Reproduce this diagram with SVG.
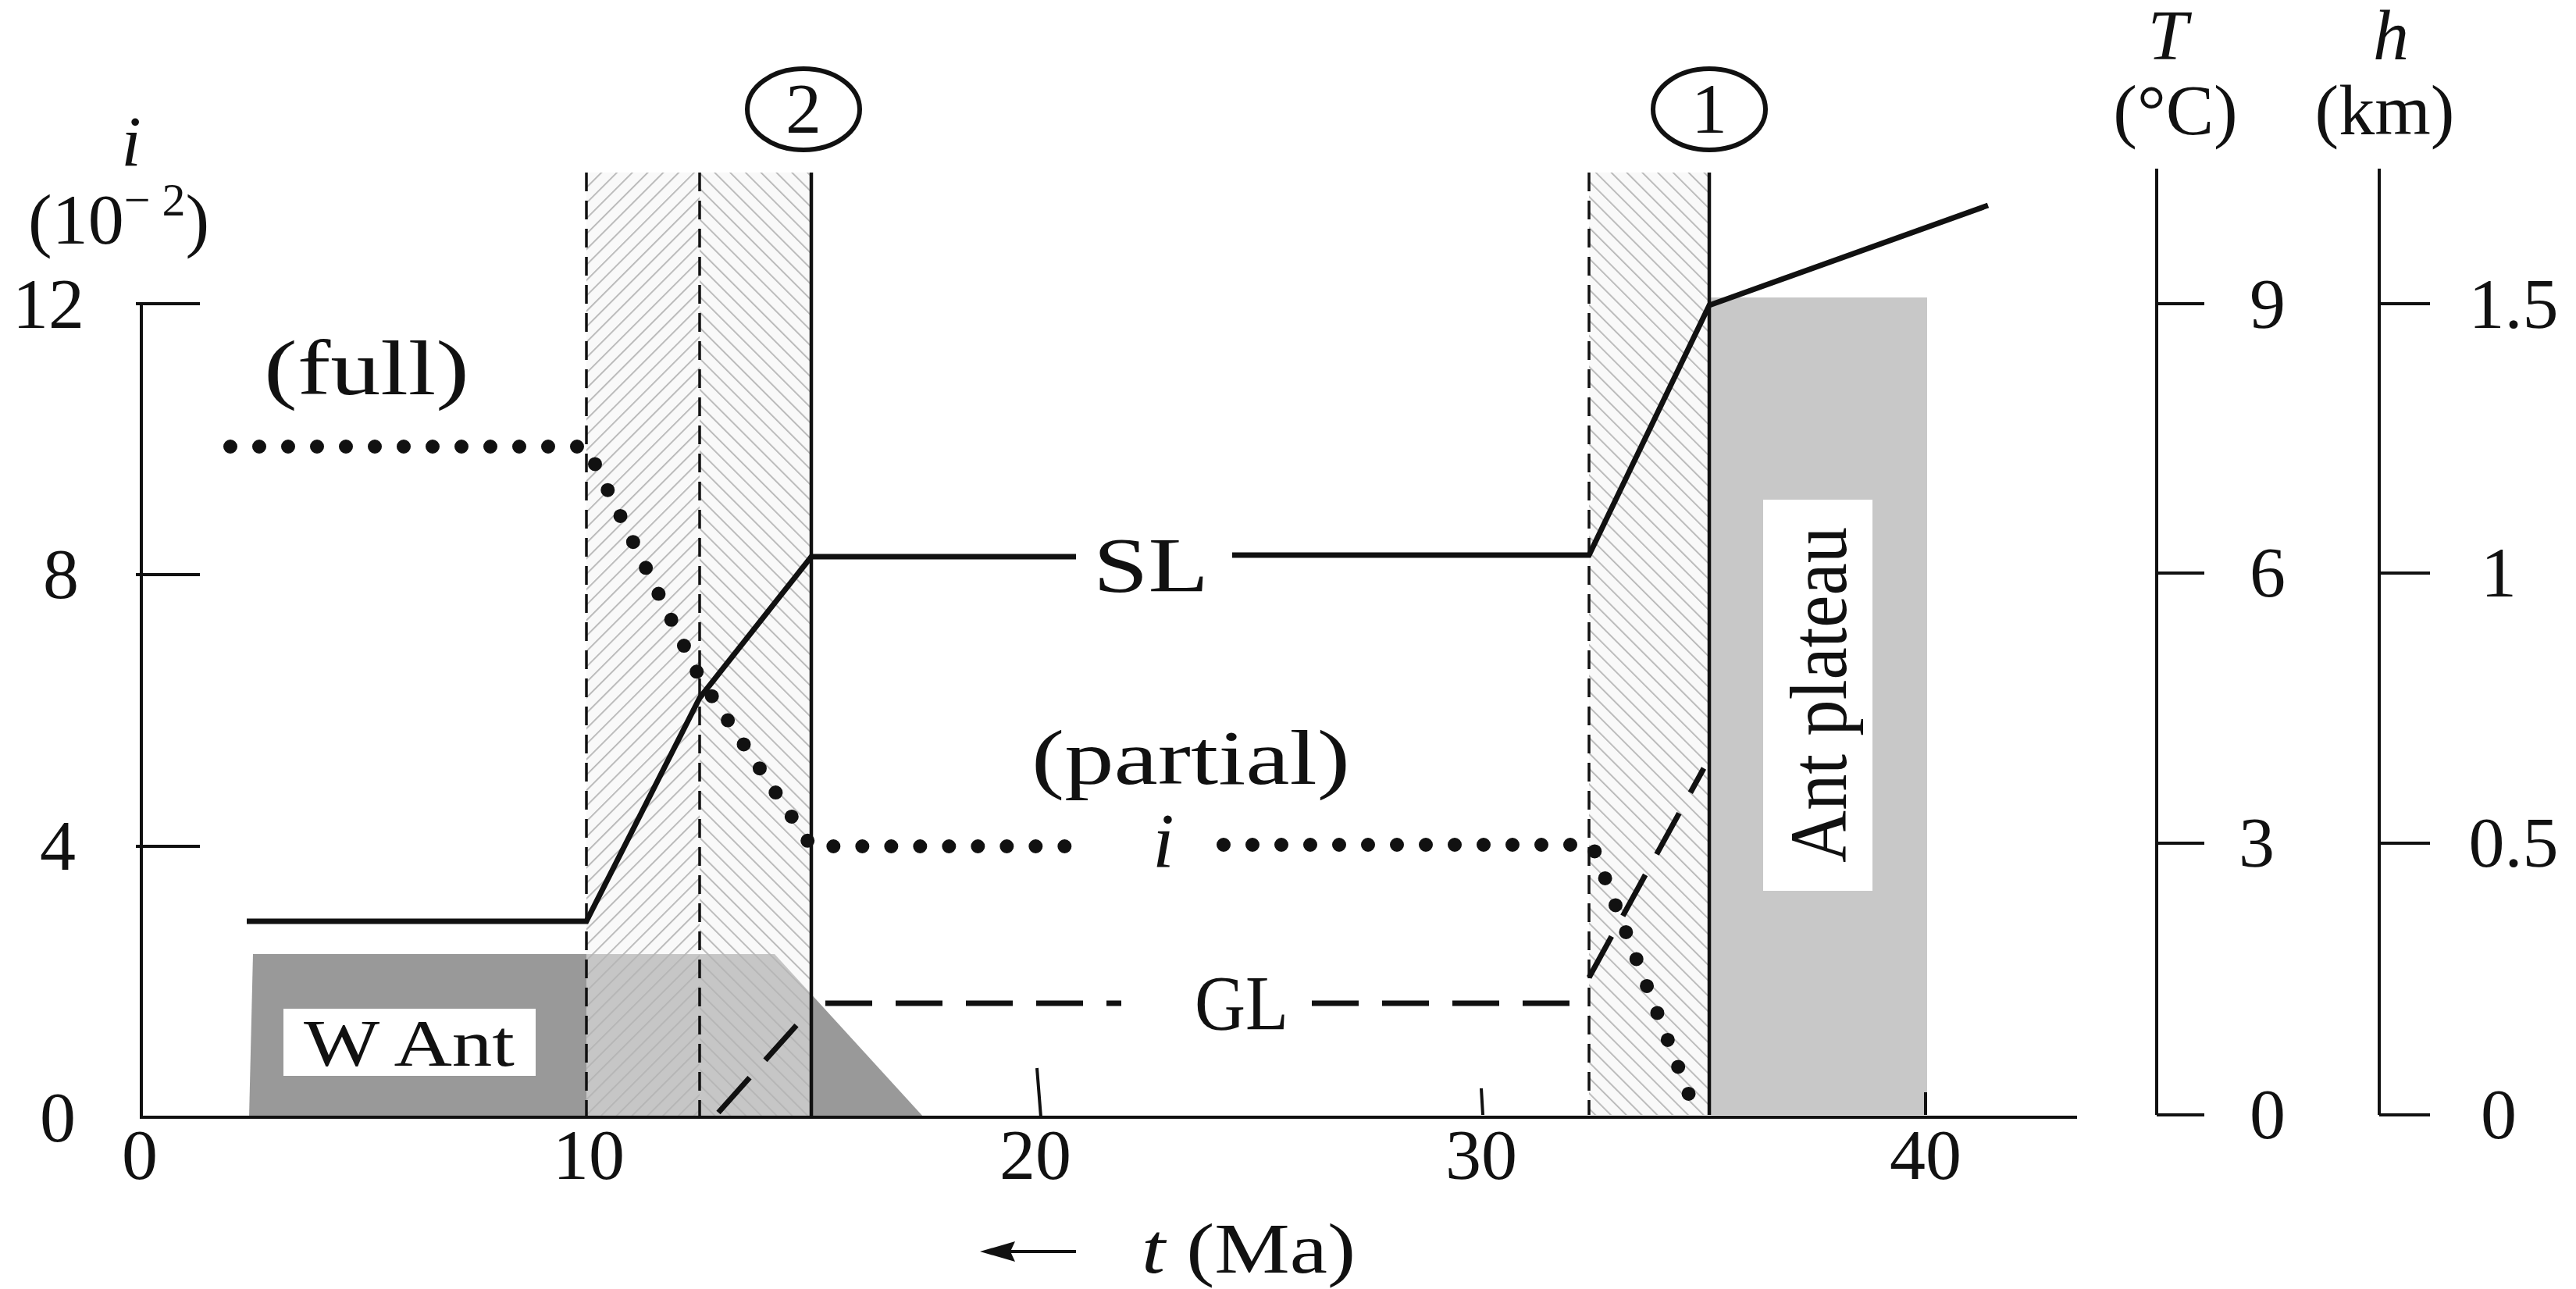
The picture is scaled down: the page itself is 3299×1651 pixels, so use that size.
<svg xmlns="http://www.w3.org/2000/svg" width="3299" height="1651" viewBox="0 0 3299 1651">
<style>
text{font-family:"Liberation Serif","Times New Roman",serif;fill:#111}
.ax{stroke:#111;stroke-width:4;fill:none}
.lbl{font-size:92px}
.big{font-size:100px}
.it{font-style:italic}
</style>
<defs>
<pattern id="hA" width="14" height="14" patternUnits="userSpaceOnUse" patternTransform="rotate(45)">
<rect width="14" height="14" fill="#f4f4f4" fill-opacity="0.5"/><line x1="0" y1="0" x2="0" y2="14" stroke="#b4b4b4" stroke-width="3.5"/></pattern>
<pattern id="hB" width="14" height="14" patternUnits="userSpaceOnUse" patternTransform="rotate(-45)">
<rect width="14" height="14" fill="#f4f4f4" fill-opacity="0.5"/><line x1="0" y1="0" x2="0" y2="14" stroke="#b4b4b4" stroke-width="3.5"/></pattern>
</defs>
<rect width="3299" height="1651" fill="#fff"/>
<g id="shapes">
<polygon points="324,1222 992,1222 1183,1431 319,1431" fill="#999"/>
<rect x="2189" y="381" width="279" height="1047" fill="#c8c8c8"/>
<rect x="751" y="221" width="145" height="1210" fill="url(#hA)"/>
<rect x="896" y="221" width="143" height="1210" fill="url(#hB)"/>
<rect x="2035" y="221" width="154" height="1207" fill="url(#hB)"/>
</g>
<g id="axes">
<line class="ax" x1="181" y1="389" x2="181" y2="1431"/>
<line class="ax" x1="179" y1="1431" x2="2660" y2="1431"/>
<path class="ax" d="M174 389H256M174 736H256M174 1084H256M1328 1368L1333 1431M1897 1394L1899 1428M2466 1399V1428"/>
<line class="ax" x1="2762" y1="216" x2="2762" y2="1428"/>
<path class="ax" d="M2762 389H2823M2762 734H2823M2762 1080H2823M2762 1428H2823"/>
<line class="ax" x1="3047" y1="216" x2="3047" y2="1428"/>
<path class="ax" d="M3047 389H3112M3047 734H3112M3047 1080H3112M3047 1428H3112"/>
<text class="lbl" x="62" y="420" text-anchor="middle">12</text>
<text class="lbl" x="78" y="766" text-anchor="middle">8</text>
<text class="lbl" x="74" y="1114" text-anchor="middle">4</text>
<text class="lbl" x="74" y="1462" text-anchor="middle">0</text>
<text class="lbl" x="179" y="1510" text-anchor="middle">0</text>
<text class="lbl" x="754" y="1510" text-anchor="middle">10</text>
<text class="lbl" x="1326" y="1510" text-anchor="middle">20</text>
<text class="lbl" x="1897" y="1510" text-anchor="middle">30</text>
<text class="lbl" x="2466" y="1510" text-anchor="middle">40</text>
<text class="lbl it" x="168" y="212" text-anchor="middle" fill="#333">i</text>
<text class="lbl" x="36" y="312">(10<tspan dy="-36" font-size="60">− 2</tspan><tspan dy="36">)</tspan></text>
<text class="lbl" x="2904" y="420" text-anchor="middle">9</text>
<text class="lbl" x="2904" y="764" text-anchor="middle">6</text>
<text class="lbl" x="2890" y="1110" text-anchor="middle">3</text>
<text class="lbl" x="2904" y="1458" text-anchor="middle">0</text>
<text class="lbl" x="3219" y="420" text-anchor="middle">1.5</text>
<text class="lbl" x="3200" y="764" text-anchor="middle">1</text>
<text class="lbl" x="3219" y="1110" text-anchor="middle">0.5</text>
<text class="lbl" x="3200" y="1458" text-anchor="middle">0</text>
<text class="lbl it" x="2776" y="76" text-anchor="middle" fill="#333">T</text>
<text class="lbl" x="2786" y="172" text-anchor="middle">(°C)</text>
<text class="lbl it" x="3062" y="76" text-anchor="middle" fill="#333">h</text>
<text class="lbl" x="3054" y="172" text-anchor="middle" fill="#333">(km)</text>
<line class="ax" x1="1378" y1="1603" x2="1275" y2="1603"/>
<polygon points="1255,1603 1300,1590 1294,1603 1300,1616" fill="#111"/>
<text class="lbl" x="1462" y="1630" textLength="274" lengthAdjust="spacingAndGlyphs"><tspan class="it">t</tspan> (Ma)</text>
</g>
<g id="markers">
<ellipse cx="1029" cy="140" rx="72" ry="52" fill="#fff" stroke="#111" stroke-width="6"/>
<text class="lbl" x="1029" y="170" text-anchor="middle">2</text>
<ellipse cx="2189" cy="140" rx="72" ry="52" fill="#fff" stroke="#111" stroke-width="6"/>
<text class="lbl" x="2189" y="170" text-anchor="middle">1</text>
</g>
<g id="connectors">
<path d="M751 221V1431M896 221V1431M2035 221V1428" style="stroke:#111;fill:none;stroke-width:3.5;stroke-dasharray:24 12"/>
<path d="M1039 221V1431M2189 221V1428" style="stroke:#111;fill:none;stroke-width:4.5"/>
<path d="M316 1180H751L896 894L1039 713H1378M1578 711H2035L2189 391L2546 263" style="stroke:#111;fill:none;stroke-width:7"/>
<path fill="none" stroke="#111" stroke-width="18" stroke-linecap="round" stroke-dasharray="0 37" d="M295 572H751L896 868L1039 1084H1399M1567 1082H2039L2168 1415"/>
<path fill="none" stroke="#111" stroke-width="7" stroke-dasharray="60 30" d="M1057 1285H1436M1680 1285H2035M2035 1252L2182 984M920 1425L1039 1292"/>
</g>
<g id="labels">
<text class="big" x="338" y="505" textLength="263" lengthAdjust="spacingAndGlyphs">(full)</text>
<text class="big" x="1321" y="1004" textLength="408" lengthAdjust="spacingAndGlyphs">(partial)</text>
<text class="big it" x="1490" y="1110" text-anchor="middle">i</text>
<text class="big" x="1400" y="757" textLength="148" lengthAdjust="spacingAndGlyphs">SL</text>
<text class="big" x="1530" y="1318" textLength="120" lengthAdjust="spacingAndGlyphs">GL</text>
<rect x="363" y="1292" width="323" height="86" fill="#fff"/>
<text font-size="84" x="524" y="1365" text-anchor="middle" fill="#333" textLength="270" lengthAdjust="spacingAndGlyphs">W Ant</text>
<rect x="2258" y="640" width="140" height="501" fill="#fff"/>
<text font-size="104" x="0" y="0" text-anchor="middle" fill="#333" textLength="430" lengthAdjust="spacingAndGlyphs" transform="translate(2364,890) rotate(-90)">Ant plateau</text>
</g>
</svg>
